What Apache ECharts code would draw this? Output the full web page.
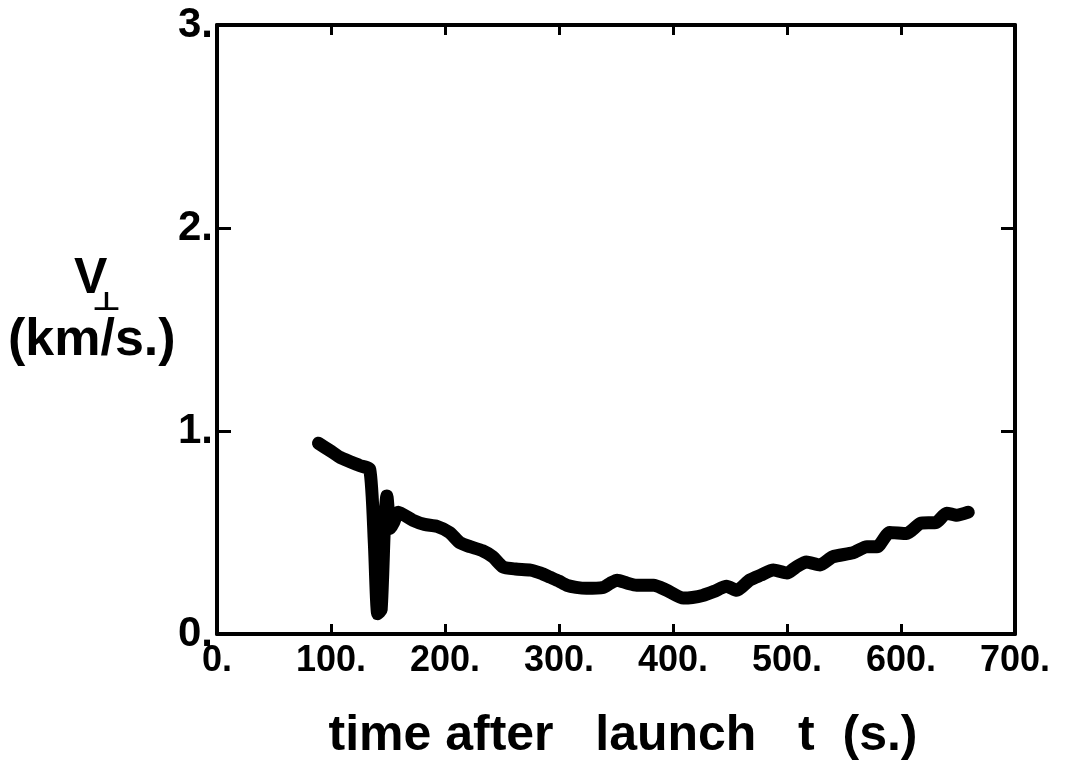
<!DOCTYPE html>
<html>
<head>
<meta charset="utf-8">
<script src="https://cdn.jsdelivr.net/npm/echarts@6/dist/echarts.min.js"></script>
<style>html,body{margin:0;padding:0;background:#fff;}#c{width:1066px;height:760px;}</style>
</head>
<body>
<div id="c"></div>
<script>
const tValues = [89, 100, 108, 125, 134, 138, 141, 144, 147, 149, 152, 155, 159, 172, 182, 193, 204, 213, 222, 233, 242, 251, 262, 275, 284, 292, 300, 307, 315, 324, 339, 345, 351, 360, 368, 383, 394, 409, 417, 426, 436, 447, 456, 467, 477, 488, 500, 508, 517, 529, 540, 558, 570, 579, 590, 605, 617, 631, 640, 649, 659];
const vValues = [0.94, 0.90, 0.87, 0.83, 0.81, 0.45, 0.10, 0.12, 0.55, 0.68, 0.52, 0.55, 0.60, 0.56, 0.54, 0.53, 0.50, 0.45, 0.43, 0.41, 0.38, 0.33, 0.32, 0.315, 0.30, 0.28, 0.26, 0.24, 0.23, 0.225, 0.23, 0.25, 0.265, 0.25, 0.24, 0.24, 0.217, 0.177, 0.18, 0.19, 0.21, 0.235, 0.215, 0.265, 0.29, 0.315, 0.30, 0.33, 0.355, 0.34, 0.38, 0.40, 0.43, 0.43, 0.50, 0.495, 0.545, 0.55, 0.595, 0.585, 0.60];
const xTicks = [0, 100, 200, 300, 400, 500, 600, 700];
const yTicks = [0, 1, 2, 3];
const xTitle = 'time after   launch   t  (s.)';
const yTitleTop = 'V';
const yTitleSub = '⊥';
const yTitleUnit = '(km/s.)';

const FONT = '"Liberation Sans", Arial, sans-serif';
const chart = echarts.init(document.getElementById('c'), null, {renderer: 'canvas'});
const lineData = tValues.map((t, i) => [t, vValues[i]]);
const axisCommon = {
  type: 'value',
  axisLine: {show: true, onZero: false, lineStyle: {color: '#000', width: 4}},
  splitLine: {show: false}
};
chart.setOption({
  animation: false,
  grid: {left: 217, right: 51, top: 25, bottom: 126, containLabel: false, outerBoundsMode: 'none'},
  xAxis: [
    Object.assign({}, axisCommon, {
      position: 'bottom', min: 0, max: 700, interval: 100,
      axisTick: {show: true, inside: true, length: 10, lineStyle: {color: '#000', width: 3}},
      axisLabel: {color: '#000', fontFamily: FONT, fontWeight: 'bold', fontSize: 36, margin: 9,
        formatter: v => xTicks.indexOf(v) >= 0 ? v + '.' : ''},
      name: xTitle, nameLocation: 'middle', nameGap: 77,
      nameTextStyle: {color: '#000', fontFamily: FONT, fontWeight: 'bold', fontSize: 50, padding: [0, 0, 0, 14]}
    }),
    Object.assign({}, axisCommon, {
      position: 'top', min: 0, max: 700, interval: 100,
      axisTick: {show: true, inside: true, length: 10, lineStyle: {color: '#000', width: 3}},
      axisLabel: {show: false}
    })
  ],
  yAxis: [
    Object.assign({}, axisCommon, {
      position: 'left', min: 0, max: 3, interval: 1,
      axisTick: {show: true, inside: true, length: 14, lineStyle: {color: '#000', width: 3}},
      axisLabel: {color: '#000', fontFamily: FONT, fontWeight: 'bold', fontSize: 42, margin: 4,
        formatter: v => yTicks.indexOf(v) >= 0 ? v + '.' : ''}
    }),
    Object.assign({}, axisCommon, {
      position: 'right', min: 0, max: 3, interval: 1,
      axisTick: {show: true, inside: true, length: 14, lineStyle: {color: '#000', width: 3}},
      axisLabel: {show: false}
    })
  ],
  graphic: [
    {type: 'text', left: 74, top: 254, style: {text: yTitleTop, fill: '#000', font: 'bold 50px ' + FONT}},
    {type: 'text', x: 92, y: 291, scaleY: 0.8, style: {text: yTitleSub, fill: '#000', font: 'bold 32px "DejaVu Sans", sans-serif', verticalAlign: 'top'}},
    {type: 'text', left: 8, top: 315, style: {text: yTitleUnit, fill: '#000', font: 'bold 52px ' + FONT}}
  ],
  series: [{
    type: 'line', data: lineData, symbol: 'none', smooth: 0.2,
    lineStyle: {color: '#000', width: 13, cap: 'round', join: 'round'}
  }]
});
</script>
</body>
</html>
